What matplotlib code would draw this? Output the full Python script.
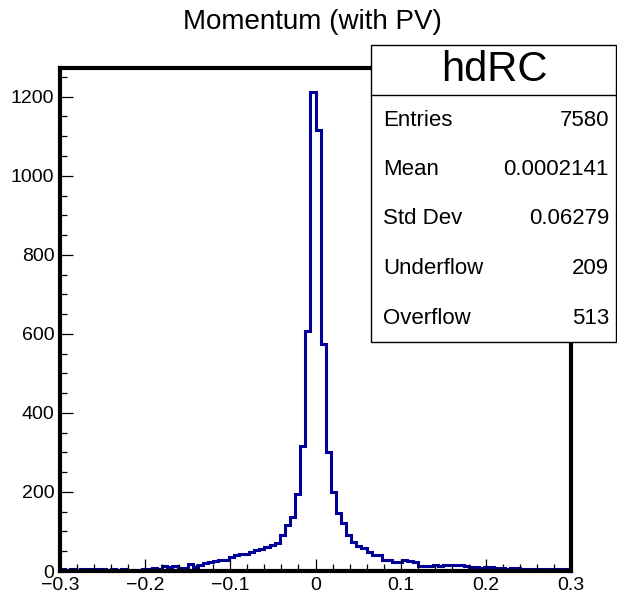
import numpy as np
import matplotlib
matplotlib.use('Agg')
import matplotlib.pyplot as plt
from matplotlib.patches import Rectangle
from matplotlib.lines import Line2D
from matplotlib.ticker import MultipleLocator

plt.rcParams['font.family'] = ['Liberation Sans', 'DejaVu Sans']

# histogram: 100 bins from -0.3 to 0.3
x_min = -0.3
x_max = 0.3
counts = [5, 3, 4, 3, 5, 4, 4, 4, 4, 3,
          4, 3, 4, 1, 2, 2, 6, 4, 7, 5,
          12, 10, 12, 7, 7, 17, 11, 15, 21, 24,
          25, 27, 29, 36, 40, 42, 43, 48, 52, 56,
          60, 66, 72, 91, 116, 137, 195, 317, 606, 1212,
          1115, 574, 302, 201, 146, 121, 91, 74, 62, 57,
          49, 41, 41, 28, 28, 24, 24, 28, 26, 22,
          12, 12, 12, 14, 13, 15, 14, 14, 15, 13,
          9, 10, 8, 9, 9, 7, 7, 6, 8, 7,
          5, 6, 5, 5, 4, 5, 5, 6, 4, 5]

hist_name = 'hdRC'
title = 'Momentum (with PV)'
stat_labels = ['Entries', 'Mean', 'Std Dev', 'Underflow', 'Overflow']
stat_values = ['7580', '0.0002141', '0.06279', '209', '513']

W, H = 617, 597
fig = plt.figure(figsize=(W / 100, H / 100), dpi=100)

def fx(px):
    return px / W

def fy(py):
    return 1 - py / H

def xfmt(v, pos):
    if abs(v) < 1e-9:
        return '0'
    return ('%g' % v).replace('-', '\u2212')

ax = fig.add_axes([fx(60), fy(571), fx(571) - fx(60), fy(68) - fy(571)])

edges = np.linspace(x_min, x_max, len(counts) + 1)
ax.stairs(counts, edges, baseline=None, color='#000099', lw=2.2)

ax.set_xlim(x_min, x_max)
ax.set_ylim(0, max(counts) * 1.05)

for s in ax.spines.values():
    s.set_linewidth(3)

ax.xaxis.set_major_locator(MultipleLocator(0.1))
ax.xaxis.set_minor_locator(MultipleLocator(0.02))
ax.yaxis.set_major_locator(MultipleLocator(200))
ax.yaxis.set_minor_locator(MultipleLocator(50))
ax.xaxis.set_major_formatter(plt.FuncFormatter(xfmt))

ax.tick_params(which='both', direction='in', width=0.9, labelsize=14, colors='black')
ax.tick_params(which='major', length=9)
ax.tick_params(which='minor', length=5)
ax.tick_params(axis='x', pad=4)
ax.tick_params(axis='y', pad=4)

# title
fig.text(fx(312), fy(22), title, ha='center', va='center', fontsize=20)

# stats box
left, right, top, bottom, div = 371, 616, 45, 342, 95
fig.add_artist(Rectangle((fx(left), fy(bottom)), fx(right) - fx(left), fy(top) - fy(bottom),
                         transform=fig.transFigure, facecolor='white', edgecolor='black', lw=1, zorder=5))
fig.add_artist(Line2D([fx(left), fx(right)], [fy(div), fy(div)], transform=fig.transFigure,
                      color='black', lw=1, zorder=6))
fig.text(fx(494), fy(70), hist_name, ha='center', va='center', fontsize=30, zorder=7)
for i, (lab, val) in enumerate(zip(stat_labels, stat_values)):
    y = 120 + i * 49.5
    fig.text(fx(383), fy(y), lab, ha='left', va='center', fontsize=16, zorder=7)
    fig.text(fx(609), fy(y), val, ha='right', va='center', fontsize=16, zorder=7)

fig.savefig('out.png', dpi=100)
